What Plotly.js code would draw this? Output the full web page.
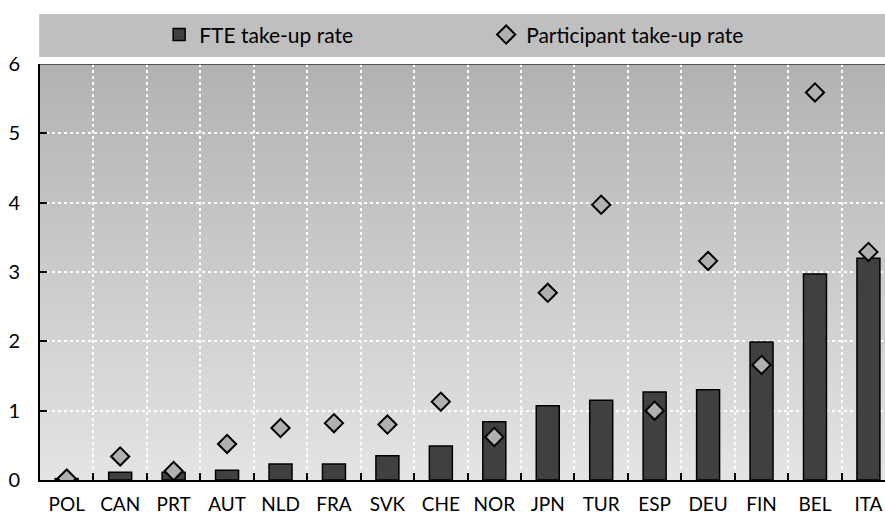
<!DOCTYPE html>
<html><head><meta charset="utf-8">
<script src="https://cdn.plot.ly/plotly-3.0.1.min.js"></script>
<style>html,body{margin:0;padding:0;background:#fff}#chart{width:885px;height:515px}</style>
</head><body><div id="chart"></div><script>
const categories = ['POL','CAN','PRT','AUT','NLD','FRA','SVK','CHE','NOR','JPN','TUR','ESP','DEU','FIN','BEL','ITA'];
const fteRate = [0.02, 0.11, 0.11, 0.14, 0.23, 0.23, 0.35, 0.49, 0.84, 1.07, 1.15, 1.27, 1.30, 1.99, 2.97, 3.20];
const participantRate = [0.02, 0.34, 0.13, 0.52, 0.75, 0.82, 0.80, 1.13, 0.62, 2.70, 3.97, 1.00, 3.16, 1.66, 5.59, 3.29];
const seriesNames = ['FTE take-up rate', 'Participant take-up rate'];
const yTicks = [0, 1, 2, 3, 4, 5, 6];

const FONT = 'Lato, "Open Sans", sans-serif';

const gradSvg = "<svg xmlns='http://www.w3.org/2000/svg' width='100' height='100' preserveAspectRatio='none'>" +
  "<defs><linearGradient id='g' x1='0' y1='0' x2='0' y2='1'>" +
  "<stop offset='0' stop-color='#b2b2b2'/><stop offset='1' stop-color='#e4e4e4'/></linearGradient></defs>" +
  "<rect width='100' height='100' fill='url(#g)'/></svg>";
const gradUri = 'data:image/svg+xml;charset=utf-8,' + encodeURIComponent(gradSvg);

const traces = [
  {
    type: 'bar', name: seriesNames[0], x: categories, y: fteRate,
    marker: {color: '#404040', line: {color: '#000000', width: 1.5}},
    hoverinfo: 'x+y'
  },
  {
    type: 'scatter', mode: 'markers', name: seriesNames[1], x: categories, y: participantRate,
    marker: {symbol: 'diamond', size: 14, color: '#b0b0b0', line: {color: '#000000', width: 2}},
    hoverinfo: 'x+y'
  }
];

const layout = {
  width: 885, height: 515,
  margin: {l: 40, r: 0, t: 64, b: 35, pad: 0},
  paper_bgcolor: '#ffffff',
  plot_bgcolor: 'rgba(0,0,0,0)',
  font: {family: FONT, size: 19, color: '#000000'},
  bargap: 0.57,
  showlegend: true,
  legend: {
    orientation: 'h', x: 0.141, xanchor: 'left', y: 1.07, yanchor: 'middle',
    bgcolor: 'rgba(0,0,0,0)', borderwidth: 0,
    font: {family: FONT, size: 21, color: '#000000'},
    entrywidth: 282, entrywidthmode: 'pixels', traceorder: 'normal'
  },
  xaxis: {
    type: 'category', range: [-0.5, 15.31],
    tickson: 'boundaries', ticks: 'inside', ticklen: 7, tickwidth: 1.5, tickcolor: '#000000',
    showgrid: true, gridcolor: '#ffffff', gridwidth: 1.5, griddash: 'dot',
    showline: true, linecolor: '#000000', linewidth: 2,
    tickfont: {family: FONT, size: 19, color: '#000000'},
    tickangle: 0, automargin: false,
    ticklabelstandoff: 6,
    fixedrange: true
  },
  yaxis: {
    range: [0, 6], tickvals: yTicks, ticktext: yTicks.map(String),
    ticks: 'inside', ticklen: 7, tickwidth: 1.5, tickcolor: '#000000',
    showgrid: true, gridcolor: '#ffffff', gridwidth: 1.5, griddash: 'dot',
    zeroline: false,
    showline: true, linecolor: '#000000', linewidth: 2,
    tickfont: {family: FONT, size: 20, color: '#000000'},
    ticklabelstandoff: 14,
    fixedrange: true
  },
  images: [{
    source: gradUri, xref: 'paper', yref: 'paper', x: 0, y: 1, sizex: 1, sizey: 1,
    xanchor: 'left', yanchor: 'top', sizing: 'stretch', layer: 'below'
  }],
  shapes: [
    {type: 'rect', xref: 'paper', yref: 'paper', x0: -0.001, x1: 1.0, y0: 1.0168, y1: 1.1202,
     fillcolor: '#bfbfbf', line: {width: 0}, layer: 'below'},
    {type: 'line', xref: 'paper', yref: 'y', x0: 0, x1: 1, y0: 6, y1: 6,
     line: {color: '#333333', width: 1.5}, layer: 'above'}
  ]
};

Plotly.newPlot('chart', traces, layout, {displayModeBar: false, staticPlot: false});
</script></body></html>
